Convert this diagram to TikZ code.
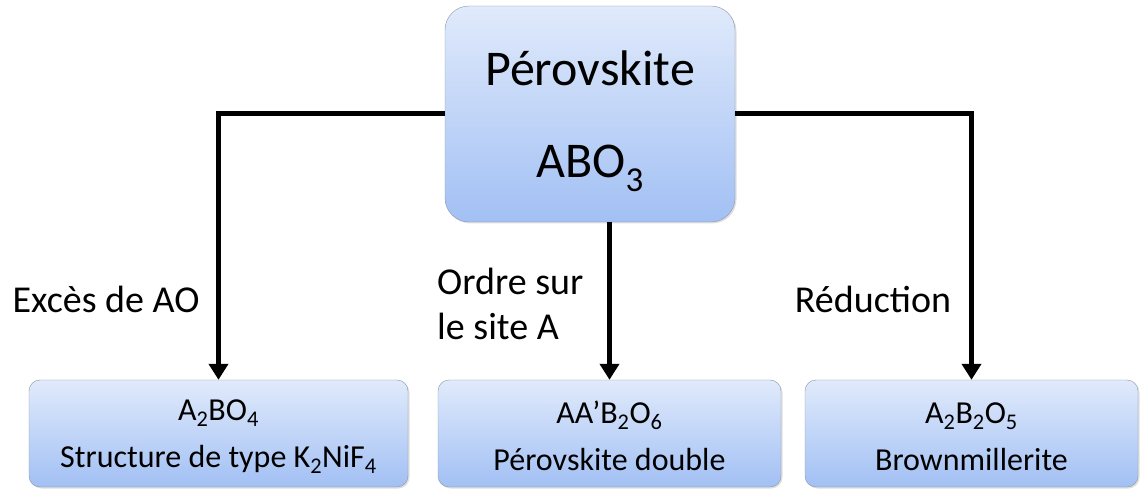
\documentclass[tikz,border=0pt]{standalone}
\usepackage{fontspec}
\setmainfont{Carlito}
\usetikzlibrary{arrows.meta,shadows}
\definecolor{boxtop}{HTML}{E0EAFB}
\definecolor{boxbot}{HTML}{A2C0F4}
\definecolor{boxline}{HTML}{8A96A8}
\begin{document}
\begin{tikzpicture}[x=1pt,y=1pt,
        boite/.style={draw=boxline,thin,top color=boxtop,bottom color=boxbot,align=center,inner sep=0pt,
                drop shadow={opacity=0.25,shadow xshift=1.5pt,shadow yshift=-1.5pt}},
        petite/.style={boite,rounded corners=11pt,minimum height=107pt,font=\fontsize{32}{47}\selectfont},
        fleche/.style={line width=5pt,-{Triangle[width=19pt,length=16pt]}},
        legende/.style={inner sep=0pt,font=\fontsize{38}{45}\selectfont}]
        \useasboundingbox (0,0) rectangle (1140,490);
        \node[boite,rounded corners=24pt,minimum width=290pt,minimum height=216pt,font=\fontsize{50}{92}\selectfont] (pero) at (590,376) {\rule{0pt}{50pt}Pérovskite\\ABO\textsubscript{3}};
        \node[petite,minimum width=379pt] (exces) at (218.5,56.5) {\rule{0pt}{27pt}A\textsubscript{2}BO\textsubscript{4}\\Structure de type K\textsubscript{2}NiF\textsubscript{4}};
        \node[petite,minimum width=343pt] (double) at (609.5,56.5) {\rule{0pt}{27pt}AA’B\textsubscript{2}O\textsubscript{6}\\Pérovskite double};
        \node[petite,minimum width=333pt] (brown) at (971.5,56.5) {\rule{0pt}{27pt}A\textsubscript{2}B\textsubscript{2}O\textsubscript{5}\\Brownmillerite};
        \draw[fleche] (pero.west) -| (exces.north);
        \draw[fleche] (pero.east) -| (brown.north);
        \draw[fleche] (pero.south -| double.north) -- (double.north);
        \node[legende,anchor=base] (lexces) at (106,177) {Excès de AO};
        \node[legende,anchor=west,align=left] (ldouble) at (437,186) {Ordre sur\\le site A};
        \node[legende,anchor=base] (lbrown) at (873,177) {Réduction};
\end{tikzpicture}
\end{document}
